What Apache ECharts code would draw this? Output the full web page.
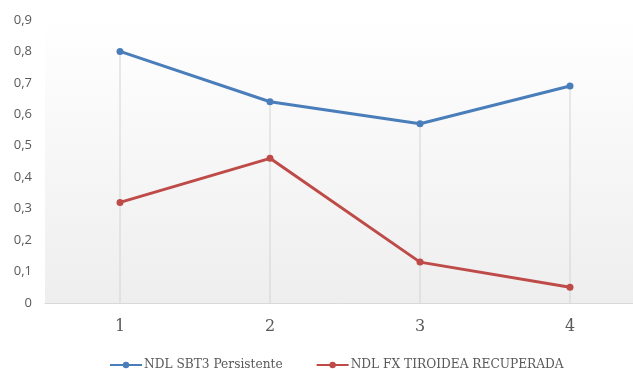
<!DOCTYPE html>
<html>
<head>
<meta charset="utf-8">
<script src="https://cdn.jsdelivr.net/npm/echarts@6/dist/echarts.min.js"></script>
<style>
  html, body { margin: 0; padding: 0; background: #ffffff; }
  #chart { width: 633px; height: 369px; }
</style>
</head>
<body>
<div id="chart"></div>
<script>
// Categories and the two measured series
const categories = ['1', '2', '3', '4'];
const persistente = [0.80, 0.64, 0.57, 0.69];
const recuperada = [0.32, 0.46, 0.13, 0.05];
const seriesNames = ['NDL SBT3 Persistente', 'NDL FX TIROIDEA RECUPERADA'];
const yTicks = [0, 0.1, 0.2, 0.3, 0.4, 0.5, 0.6, 0.7, 0.8, 0.9];

// Drop lines run from the axis up to the highest point in each category
const dropTops = categories.map((_, i) => Math.max(persistente[i], recuperada[i]));

const chart = echarts.init(document.getElementById('chart'));
const blue = '#4a7ebb';
const red = '#be4b48';

chart.setOption({
  animation: false,
  backgroundColor: '#ffffff',
  grid: {
    left: 45, top: 20, width: 600, height: 283,
    outerBoundsMode: 'none',
    containLabel: false,
    show: true,
    borderWidth: 0,
    backgroundColor: new echarts.graphic.LinearGradient(0, 0, 0, 1, [
      { offset: 0, color: '#ffffff' },
      { offset: 1, color: '#eeeeee' }
    ])
  },
  legend: {
    data: seriesNames,
    left: 104, top: 354,
    itemWidth: 32, itemHeight: 8,
    itemGap: 33,
    textStyle: { fontFamily: 'DejaVu Serif', fontSize: 12.2, color: '#595959', padding: [0, 0, 0, -3] }
  },
  xAxis: {
    type: 'category',
    data: categories,
    boundaryGap: true,
    axisLine: { show: true, lineStyle: { color: '#d9d9d9', width: 1 } },
    axisTick: { show: false },
    splitLine: { show: false },
    axisLabel: { fontFamily: 'DejaVu Serif', fontSize: 16, color: '#595959', margin: 16 }
  },
  yAxis: {
    type: 'value',
    min: yTicks[0], max: yTicks[yTicks.length - 1], interval: 0.1,
    axisLine: { show: false },
    axisTick: { show: false },
    splitLine: { show: false },
    axisLabel: {
      fontFamily: 'Open Sans', fontSize: 13, color: '#595959', margin: 13,
      formatter: v => (Math.abs(v) < 1e-9 ? '0' : v.toFixed(1).replace('.', ','))
    }
  },
  series: [
    {
      name: 'drop',
      type: 'bar',
      data: dropTops,
      barWidth: 1,
      silent: true,
      z: 1,
      itemStyle: { color: '#d4d4d4' }
    },
    {
      name: seriesNames[0],
      type: 'line',
      data: persistente,
      z: 3,
      symbol: 'circle', symbolSize: 7,
      lineStyle: { color: blue, width: 3 },
      itemStyle: { color: blue }
    },
    {
      name: seriesNames[1],
      type: 'line',
      data: recuperada,
      z: 3,
      symbol: 'circle', symbolSize: 7,
      lineStyle: { color: red, width: 3 },
      itemStyle: { color: red }
    }
  ]
});
</script>
</body>
</html>
